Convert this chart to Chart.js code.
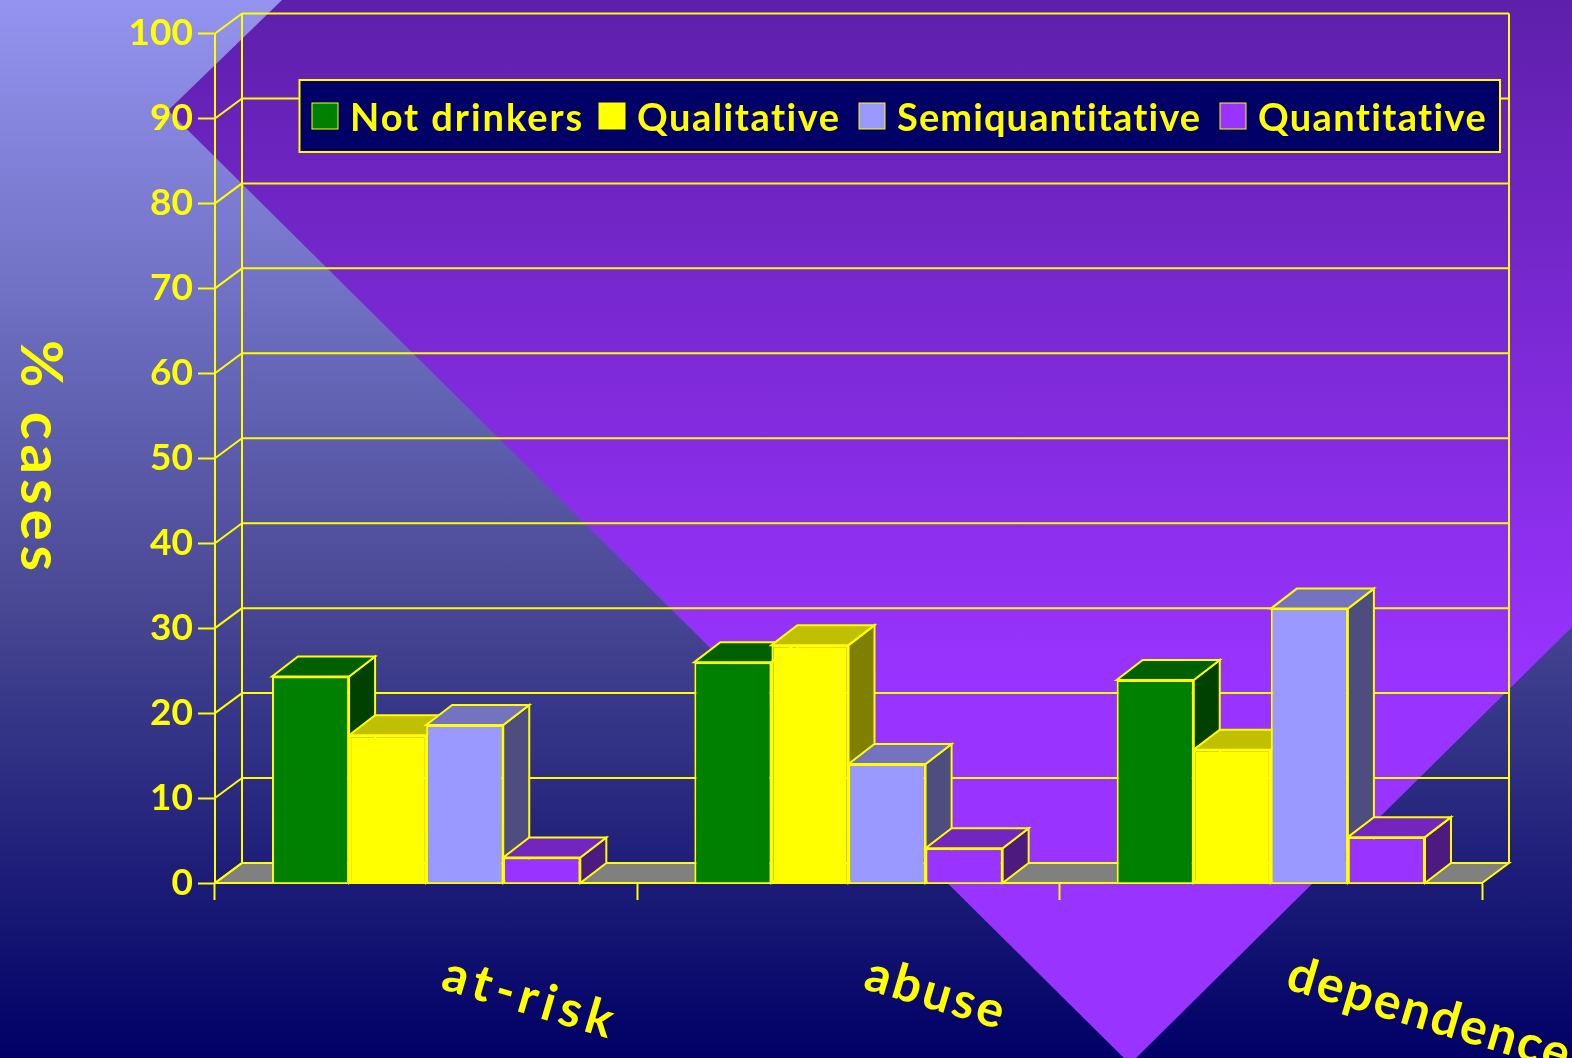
<!DOCTYPE html>
<html>
<head>
<meta charset="utf-8">
<script src="https://cdn.jsdelivr.net/npm/chart.js@4"></script>
<style>
html,body{margin:0;padding:0;width:1572px;height:1058px;overflow:hidden;
background:linear-gradient(180deg,#9494f0 0%,#7070c4 28%,#484894 57%,#000066 100%);}
#diamond{position:absolute;left:0;top:0;width:1572px;height:1058px;
background:linear-gradient(180deg,#5e1fab 0px,#9933ff 680px);
clip-path:polygon(168px 110.5px,282px 0,1572px 0,1572px 627px,1130px 1064px);}
canvas{position:absolute;left:0;top:0;display:block;}
</style>
</head>
<body>
<div id="diamond"></div>
<canvas id="c" width="1572" height="1058" style="width:1572px;height:1058px"></canvas>
<script>
const categories = ['at-risk', 'abuse', 'dependence'];
const notDrinkers = [24.3, 26.0, 23.9];
const qualitative = [17.4, 28.0, 15.7];
const semiquantitative = [18.6, 14.0, 32.3];
const quantitative = [3.0, 4.1, 5.4];
const seriesNames = ['Not drinkers', 'Qualitative', 'Semiquantitative', 'Quantitative'];
const seriesColors = ['#008000', '#ffff00', '#9999ff', '#9933ff'];
const topColors = ['#006000', '#c0c000', '#7373bf', '#7326bf'];
const sideColors = ['#004000', '#808000', '#4d4d80', '#4d1a80'];
const yAxisTitle = '% cases';

const YEL = '#ffff00';
const FONT = 'Lato, "Open Sans", sans-serif';
const DX = 27, DY = -20, BAR_DX = 26;

function poly(ctx, pts, fill, lw) {
  ctx.beginPath();
  pts.forEach((p, i) => i ? ctx.lineTo(p[0], p[1]) : ctx.moveTo(p[0], p[1]));
  ctx.closePath();
  if (fill) { ctx.fillStyle = fill; ctx.fill(); }
  ctx.lineWidth = lw || 2; ctx.strokeStyle = YEL; ctx.stroke();
}
function line(ctx, x1, y1, x2, y2, lw) {
  ctx.beginPath(); ctx.moveTo(x1, y1); ctx.lineTo(x2, y2);
  ctx.lineWidth = lw || 2; ctx.strokeStyle = YEL; ctx.stroke();
}

const wall3d = {
  id: 'wall3d',
  beforeDatasetsDraw(chart) {
    const { ctx, chartArea: a, scales: { y } } = chart;
    ctx.save();
    const y0 = y.getPixelForValue(0), yT = y.getPixelForValue(100);
    // floor
    poly(ctx, [[a.left, y0], [a.right, y0], [a.right + DX, y0 + DY], [a.left + DX, y0 + DY]], '#808080');
    // back wall
    line(ctx, a.left + DX, y0 + DY, a.left + DX, yT + DY);
    line(ctx, a.right + DX, y0 + DY, a.right + DX, yT + DY);
    y.ticks.forEach(t => {
      const p = y.getPixelForValue(t.value);
      line(ctx, a.left, p, a.left + DX, p + DY);
      if (t.value > 0) line(ctx, a.left + DX, p + DY, a.right + DX, p + DY);
    });
    // 3D faces of bars, painted left to right
    const n = chart.data.labels.length, m = chart.data.datasets.length;
    for (let i = 0; i < n; i++) {
      for (let d = 0; d < m; d++) {
        const el = chart.getDatasetMeta(d).data[i];
        const half = el.width / 2, l = el.x - half, r = el.x + half;
        poly(ctx, [[r, el.y], [r + BAR_DX, el.y + DY], [r + BAR_DX, y0 + DY], [r, y0]], sideColors[d]);
        poly(ctx, [[l, el.y], [l + BAR_DX, el.y + DY], [r + BAR_DX, el.y + DY], [r, el.y]], topColors[d]);
      }
    }
    ctx.restore();
  },
  afterDraw(chart) {
    const { ctx, scales: { x } } = chart;
    ctx.save();
    // legend box
    const bx = 299.5, by = 80, bw = 1200.5, bh = 72;
    ctx.fillStyle = '#000066'; ctx.fillRect(bx, by, bw, bh);
    ctx.lineWidth = 2; ctx.strokeStyle = YEL; ctx.strokeRect(bx, by, bw, bh);
    ctx.font = '700 38px ' + FONT;
    ctx.textBaseline = 'middle'; ctx.textAlign = 'left';
    const starts = [312, 599, 859, 1220];
    const spacing = [1.95, 1.5, 1.1, 1.35];
    chart.data.datasets.forEach((ds, i) => {
      ctx.fillStyle = ds.backgroundColor;
      ctx.fillRect(starts[i], 103, 26, 26);
      ctx.lineWidth = 1; ctx.strokeStyle = YEL; ctx.strokeRect(starts[i], 103, 26, 26);
      ctx.fillStyle = YEL;
      ctx.letterSpacing = spacing[i] + 'px';
      ctx.fillText(ds.label, starts[i] + 38, 119);
    });
    // category labels, tilted
    ctx.font = '700 50px ' + FONT;
    ctx.fillStyle = YEL;
    const catSpacing = [5.5, 3, 2.2];
    chart.data.labels.forEach((lab, i) => {
      ctx.save();
      ctx.translate(x.getPixelForTick(i) + 18, 973);
      ctx.rotate(16.5 * Math.PI / 180);
      ctx.letterSpacing = catSpacing[i] + 'px';
      ctx.fillText(lab, 0, 0);
      ctx.restore();
    });
    // y axis title reading downward
    ctx.font = '700 58px ' + FONT;
    ctx.letterSpacing = '5px';
    ctx.textAlign = 'center';
    ctx.translate(40, 458);
    ctx.rotate(Math.PI / 2);
    ctx.fillText(yAxisTitle, 0, 0);
    ctx.restore();
  }
};

const series = [notDrinkers, qualitative, semiquantitative, quantitative];
new Chart(document.getElementById('c'), {
  type: 'bar',
  data: {
    labels: categories,
    datasets: seriesNames.map((name, i) => ({
      label: name,
      data: series[i],
      backgroundColor: seriesColors[i],
      borderColor: YEL,
      borderWidth: 2,
      categoryPercentage: 0.73,
      barPercentage: 1
    }))
  },
  options: {
    responsive: false,
    animation: false,
    layout: { padding: { top: 33.5, right: 90, left: 0, bottom: 0 } },
    plugins: { legend: { display: false }, title: { display: false }, tooltip: { enabled: false } },
    scales: {
      x: {
        afterFit(s) { s.height = 175; },
        grid: { drawOnChartArea: false, drawTicks: true, tickLength: 17, tickColor: YEL, tickWidth: 2, offset: true },
        border: { color: YEL, width: 2 },
        ticks: { display: false }
      },
      y: {
        min: 0, max: 100,
        afterFit(s) { s.width = 215; },
        grid: { drawOnChartArea: false, drawTicks: true, tickLength: 17, tickColor: YEL, tickWidth: 2 },
        border: { color: YEL, width: 2 },
        ticks: { stepSize: 10, color: YEL, padding: 5, font: { family: FONT, size: 37, weight: '700' } }
      }
    }
  },
  plugins: [wall3d]
});
</script>
</body>
</html>
